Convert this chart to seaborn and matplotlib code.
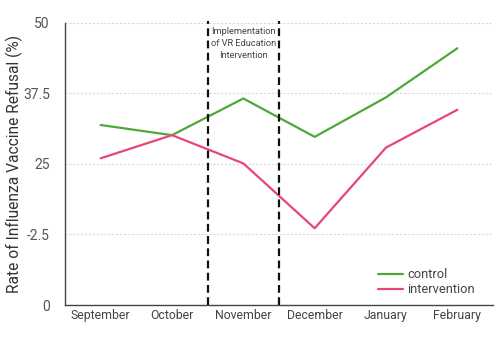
import matplotlib
matplotlib.use("Agg")
import matplotlib.pyplot as plt
import seaborn as sns
import pandas as pd
from matplotlib.ticker import FixedLocator, NullFormatter

months = ["September", "October", "November", "December", "January", "February"]
control = [31.9, 30.1, 36.6, 29.8, 36.8, 45.5]
intervention = [26.0, 30.1, 25.1, 13.6, 27.9, 34.6]
ytick_vals = [0, 12.5, 25, 37.5, 50]
ytick_labels = ["0", "-2.5", "25", "37.5", "50"]
annotation = "Implementation\nof VR Education\nIntervention"

df = pd.DataFrame({
    "month": months * 2,
    "value": control + intervention,
    "group": ["control"] * len(months) + ["intervention"] * len(months),
})

sns.set_style("white")
plt.rcParams["font.family"] = ["Roboto", "DejaVu Sans"]

fig = plt.figure(figsize=(5, 3.52), dpi=100)
ax = fig.add_axes([0.13, 0.1335, 0.856, 0.8015])

palette = {"control": "#4ea839", "intervention": "#e8457a"}
sns.lineplot(data=df, x="month", y="value", hue="group", palette=palette,
             linewidth=1.6, ax=ax, sort=False)

ax.set_xlim(-0.5, 5.5)
ax.set_ylim(0, 50)

for v in ytick_vals[1:]:
    ax.axhline(v, color="#d9d9d9", lw=0.8, ls=(0, (2, 1.5)), zorder=0)

for xv in [1.5, 2.5]:
    ax.axvline(xv, ymin=0, ymax=1.008, color="#111111", lw=1.6,
               ls=(0, (3.5, 2)), clip_on=False, zorder=3)

ax.text(2.0, 49.2, annotation, ha="center", va="top", fontsize=6.7,
        color="#444444", linespacing=1.4)

ax.set_yticks(ytick_vals)
ax.set_yticklabels(ytick_labels)
ax.tick_params(axis="y", length=9, width=1, color="#444444", labelsize=10,
               labelcolor="#555555", pad=2)

ax.xaxis.set_major_locator(FixedLocator([-0.5, 0.5, 1.5, 2.5, 3.5, 4.5, 5.5]))
ax.xaxis.set_major_formatter(NullFormatter())
ax.xaxis.set_minor_locator(FixedLocator(range(len(months))))
ax.set_xticklabels(months, minor=True)
ax.tick_params(axis="x", which="major", length=10, width=1, color="#444444", direction="out")
ax.tick_params(axis="x", which="minor", length=0, labelsize=8.8, labelcolor="#444444", pad=3)

for s in ["top", "right"]:
    ax.spines[s].set_visible(False)
for s in ["left", "bottom"]:
    ax.spines[s].set_color("#444444")
    ax.spines[s].set_linewidth(1)

ax.set_xlabel("")
ax.set_ylabel("Rate of Influenza Vaccine Refusal (%)", fontsize=11.2, color="#333333")
ax.yaxis.set_label_coords(-0.098, 0.5)

leg = ax.legend(loc="lower right", bbox_to_anchor=(0.985, -0.01), frameon=False,
                fontsize=9.3, handlelength=2.0, handletextpad=0.3, labelspacing=0.15)
for t in leg.get_texts():
    t.set_color("#444444")

fig.savefig("out.png", dpi=100)
